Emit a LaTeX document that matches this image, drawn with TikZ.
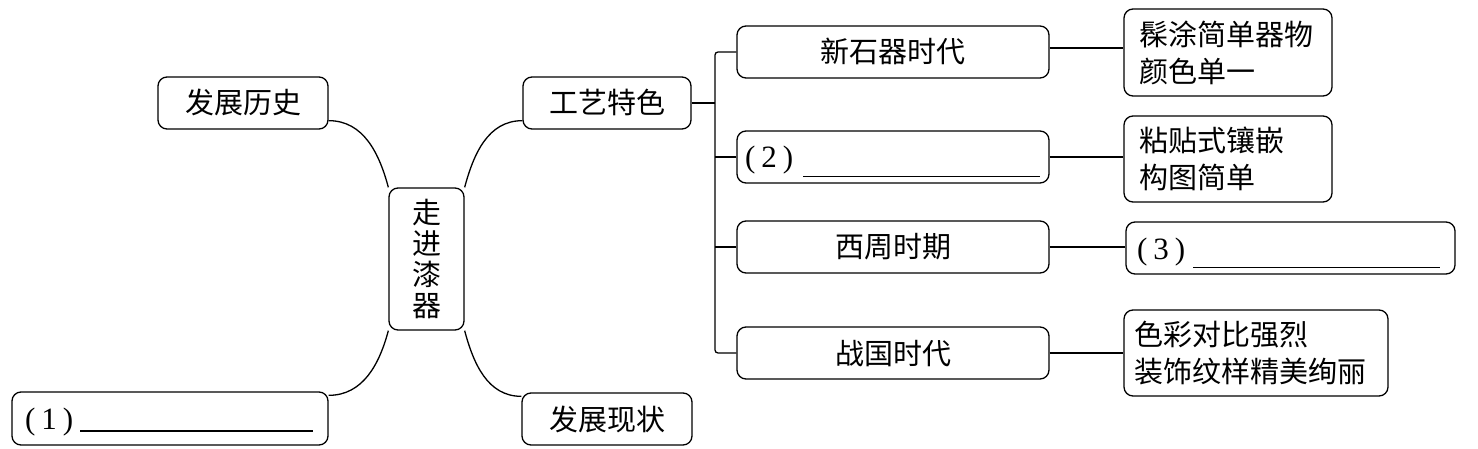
\documentclass[tikz,border=0pt]{standalone}
\usepackage{fontspec}
\setmainfont{Noto Sans CJK SC}
\newfontfamily\ser{Liberation Serif}
\usetikzlibrary{calc}
\newcommand{\paren}[1]{{\ser\fontsize{31}{37}\selectfont(\hspace{6pt}#1\hspace{6pt})}}
\begin{document}
\begin{tikzpicture}[x=1pt,y=1pt,
  line width=1.3pt,
  box/.style={draw,line width=1.3pt,rounded corners=9pt,inner sep=0pt,
    font=\fontsize{29}{37}\selectfont},
  one/.style={box,text height=25.5pt,text depth=3.5pt},
  conn/.style={line width=1.3pt}]
\useasboundingbox (0,0) rectangle (1478,-449);
% left part
\node[one,minimum width=170,minimum height=52] (lishi) at (243,-103) {发展历史};
\node[box,minimum width=75,minimum height=142,align=center,
  font=\fontsize{29}{31.3}\selectfont] (zj) at (426.5,-259) {走\\进\\漆\\器};
\node[one,minimum width=316,minimum height=53,inner xsep=13pt,text width=290pt,align=left] (q1) at (170,-418.5)
  {\paren{1}\hspace{7pt}\rule[-2pt]{233pt}{1.3pt}};
\node[one,minimum width=168,minimum height=52] (gongyi) at (607,-103) {工艺特色};
\node[one,minimum width=170,minimum height=52] (xianzhuang) at (607,-419) {发展现状};
% middle column
\node[one,minimum width=312,minimum height=52] (xsq) at (893,-52) {新石器时代};
\node[one,minimum width=312,minimum height=52,inner xsep=8pt,text width=296pt,align=left] (q2) at (893,-157)
  {\paren{2}\hspace{10pt}\rule[-9pt]{237pt}{1.3pt}};
\node[one,minimum width=312,minimum height=52] (xz) at (893,-247) {西周时期};
\node[one,minimum width=312,minimum height=52] (zg) at (893,-353) {战国时代};
% right column
\node[box,minimum width=208,minimum height=87,inner xsep=15pt,text width=178pt,align=left] (r1) at (1228,-52.5)
  {髹涂简单器物\\颜色单一};
\node[box,minimum width=208,minimum height=86,inner xsep=15pt,text width=178pt,align=left] (r2) at (1228,-159)
  {粘贴式镶嵌\\构图简单};
\node[one,minimum width=329,minimum height=52,inner xsep=11pt,text width=307pt,align=left] (r3) at (1290.5,-248)
  {\paren{3}\hspace{8pt}\rule[-9pt]{247pt}{1.3pt}};
\node[box,minimum width=264,minimum height=86,inner xsep=10pt,text width=244pt,align=left] (r4) at (1256,-353)
  {色彩对比强烈\\装饰纹样精美绚丽};
% curves
\draw[conn] ($(lishi.south east)+(0,9)$) to[out=0,in=105] (zj.north west);
\draw[conn] (zj.north east) to[out=75,in=180] ($(gongyi.south west)+(0,9)$);
\draw[conn] (zj.south west) to[out=-105,in=0] ($(q1.north east)+(0,-4)$);
\draw[conn] (zj.south east) to[out=-75,in=180] ($(xianzhuang.north west)+(0,-4)$);
% trunk
\coordinate (t1) at (715,-52);
\coordinate (t4) at (715,-353);
\draw[conn,rounded corners=3pt] (xsq.west) -- (t1) -- (t4) -- (zg.west);
\draw[conn] (gongyi.east) -- (gongyi.east -| t1);
\draw[conn] (q2.west) -- (q2.west -| t1);
\draw[conn] (xz.west) -- (xz.west -| t1);
% right connectors
\draw[conn] ($(xsq.east)+(0,4)$) -- ($(xsq.east -| r1.west)+(0,4)$);
\draw[conn] (q2.east) -- (q2.east -| r2.west);
\draw[conn] (xz.east) -- (xz.east -| r3.west);
\draw[conn] (zg.east) -- (zg.east -| r4.west);
\end{tikzpicture}
\end{document}
